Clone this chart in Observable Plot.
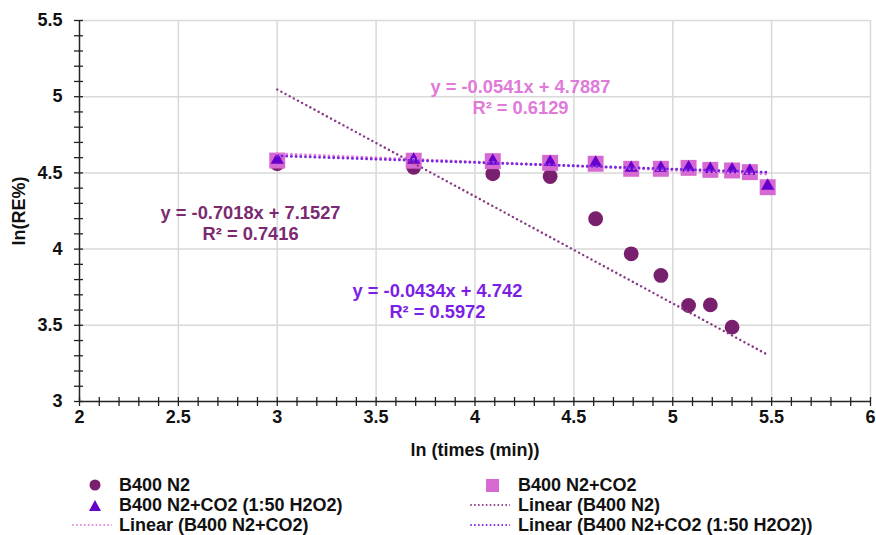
<!DOCTYPE html>
<html><head><meta charset="utf-8">
<script src="https://cdn.jsdelivr.net/npm/d3@7"></script>
<script src="https://cdn.jsdelivr.net/npm/@observablehq/plot@0.6"></script>
<style>
body{margin:0;background:#fff;font-family:"Liberation Sans",Arial,sans-serif;}
#legend{position:relative;width:876px;height:67px;font-weight:bold;font-size:18px;color:#111;}
.item{position:absolute;height:20px;line-height:20px;white-space:nowrap;}
.sw{position:absolute;}
</style></head><body><div id="chart"></div><div id="legend"></div>
<script>
// ---- data ----
const lnTime = [3.00, 3.69, 4.09, 4.38, 4.61, 4.79, 4.94, 5.08, 5.19, 5.30, 5.39, 5.48];
const seriesNames = ["B400 N2", "B400 N2+CO2", "B400 N2+CO2 (1:50 H2O2)"];
const valN2 = [4.56, 4.537, 4.494, 4.476, 4.199, 3.969, 3.827, 3.630, 3.634, 3.488];
const valCO2 = [4.581, 4.580, 4.577, 4.566, 4.560, 4.527, 4.527, 4.533, 4.520, 4.516, 4.505, 4.406];
const valH2O2 = [4.585, 4.585, 4.578, 4.570, 4.565, 4.532, 4.532, 4.535, 4.525, 4.522, 4.513, 4.415];
const slopes = [-0.7018, -0.0541, -0.0434];
const intercepts = [7.1527, 4.7887, 4.742];
const r2 = ["0.7416", "0.6129", "0.5972"];
const trendRange = [3.00, 5.48];
const xTicks = [2, 2.5, 3, 3.5, 4, 4.5, 5, 5.5, 6];
const yTicks = [3, 3.5, 4, 4.5, 5, 5.5];
const xTitle = "ln (times (min))";
const yTitle = "ln(RE%)";

// ---- styles ----
const markColors = ["#78206e", "#d769d2", "#6600cc"];
const trendColors = ["#8a3a84", "#e384de", "#7a25e0"];
const eqColors = ["#7b2a72", "#e07ad9", "#7b1fe6"];
const dots = {strokeLinecap: "round", strokeDasharray: "0.1 4.6"};

const pts = (vals) => vals.map((v, i) => ({x: lnTime[i], y: v}));
const trend = (k) => trendRange.map(x => ({x, y: slopes[k] * x + intercepts[k]}));
const eqText = (k) => `y = ${slopes[k]}x + ${intercepts[k]}\nR² = ${r2[k]}`;
const xMinor = d3.range(0, 41).map(i => 2 + i / 10);
const yMinor = d3.range(0, 26).map(i => 3 + i / 10);
const eqPos = [[2.865, 4.171], [4.23, 5.0], [3.81, 3.663]];
const eqData = [0, 1, 2].map(k => ({x: eqPos[k][0], y: eqPos[k][1], t: eqText(k), c: eqColors[k]}));

const chart = Plot.plot({
  width: 876, height: 468,
  marginTop: 20, marginLeft: 79, marginRight: 6, marginBottom: 67,
  x: {domain: [2, 6]},
  y: {domain: [3, 5.5]},
  style: {fontFamily: "Liberation Sans, Arial, sans-serif", fontSize: "18px", fontWeight: "bold", color: "#111", background: "#fff"},
  marks: [
    Plot.gridX(xTicks.slice(1), {stroke: "#d9d9d9", strokeOpacity: 1, strokeWidth: 1.5}),
    Plot.gridY(yTicks.slice(1), {stroke: "#d9d9d9", strokeOpacity: 1, strokeWidth: 1.5}),
    Plot.ruleX([2], {stroke: "#222", strokeWidth: 1.5}),
    Plot.ruleY([3], {stroke: "#222", strokeWidth: 1.5}),
    Plot.axisX(xMinor, {tickSize: 9, dy: -4, fill: "none", label: null, stroke: "#222", strokeWidth: 1.3}),
    Plot.axisY(yMinor, {tickSize: 9, dx: 4, fill: "none", label: null, stroke: "#222", strokeWidth: 1.3}),
    Plot.axisX(xTicks, {tickSize: 0, tickPadding: 9, tickFormat: d => String(d), fontSize: 18, fontWeight: "bold",
      label: xTitle, labelAnchor: "center", labelOffset: 54, labelArrow: "none"}),
    Plot.axisY(yTicks, {tickSize: 0, tickPadding: 17, tickFormat: d => String(d), fontSize: 18, fontWeight: "bold",
      label: yTitle, labelAnchor: "center", labelOffset: 67, labelArrow: "none"}),
    Plot.dot(pts(valN2), {x: "x", y: "y", r: 7.4, symbol: "circle", fill: markColors[0]}),
    Plot.dot(pts(valCO2), {x: "x", y: "y", r: 9, symbol: "square", fill: markColors[1]}),
    Plot.dot(pts(valH2O2), {x: "x", y: "y", r: 4.9, symbol: "triangle", fill: markColors[2]}),
    Plot.line(trend(0), {x: "x", y: "y", stroke: trendColors[0], strokeWidth: 2.4, ...dots}),
    Plot.line(trend(1), {x: "x", y: "y", stroke: trendColors[1], strokeWidth: 2.8, ...dots}),
    Plot.line(trend(2), {x: "x", y: "y", stroke: trendColors[2], strokeWidth: 2.8, ...dots}),
    Plot.text(eqData, {x: "x", y: "y", text: "t", fill: "c", fontSize: 18.3, fontWeight: "bold", lineHeight: 1.15, textAnchor: "middle"})
  ]
});
document.getElementById("chart").appendChild(chart);

// ---- legend ----
const legend = document.getElementById("legend");
const swLine = (c, w, dash) => `<svg width="40" height="6"><line x1="1" y1="3" x2="40" y2="3" stroke="${c}" stroke-width="${w}" stroke-linecap="round" stroke-dasharray="${dash}"/></svg>`;
const items = [
  {left: 119, row: 0, text: seriesNames[0], sw: `<svg width="12" height="12"><circle cx="6" cy="6" r="5.5" fill="${markColors[0]}"/></svg>`, swx: 89},
  {left: 518, row: 0, text: seriesNames[1], sw: `<svg width="13" height="13"><rect width="13" height="13" fill="${markColors[1]}"/></svg>`, swx: 486},
  {left: 119, row: 1, text: seriesNames[2], sw: `<svg width="12" height="11"><path d="M6,0L12,11L0,11Z" fill="${markColors[2]}"/></svg>`, swx: 89},
  {left: 518, row: 1, text: `Linear (${seriesNames[0]})`, sw: swLine(trendColors[0], 1.8, "0.1 3.8"), swx: 470},
  {left: 119, row: 2, text: `Linear (${seriesNames[1]})`, sw: swLine(trendColors[1], 1.8, "0.1 3.8"), swx: 72},
  {left: 518, row: 2, text: `Linear (${seriesNames[2]})`, sw: swLine(trendColors[2], 1.8, "0.1 3.8"), swx: 470}
];
for (const it of items) {
  const top = 7 + it.row * 20;
  const d = document.createElement("div");
  d.className = "item";
  d.style.left = it.left + "px";
  d.style.top = top + "px";
  d.textContent = it.text;
  legend.appendChild(d);
  const s = document.createElement("div");
  s.className = "sw";
  s.style.left = it.swx + "px";
  s.innerHTML = it.sw;
  legend.appendChild(s);
  const svg = s.querySelector("svg");
  const h = +svg.getAttribute("height");
  s.style.top = (top + 10 - h / 2) + "px";
  s.style.lineHeight = "0";
}
</script>
</body></html>
